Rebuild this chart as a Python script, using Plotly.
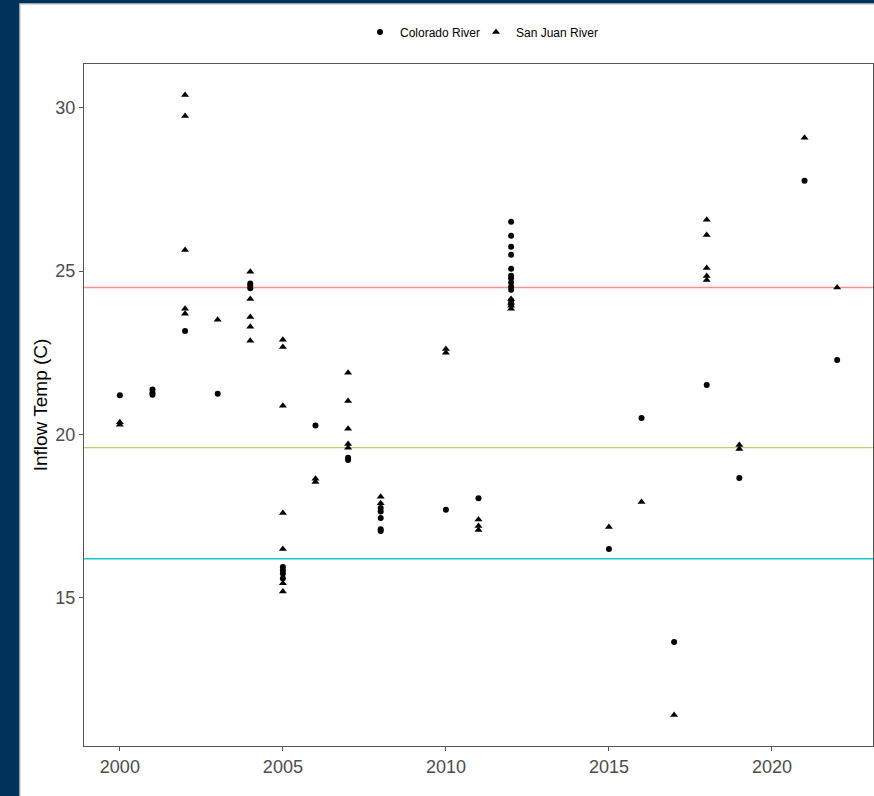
import plotly.graph_objects as go

# ---- data ----
co_years = [2000, 2001, 2001, 2001, 2002, 2003, 2004, 2004, 2004,
            2005, 2005, 2005, 2005, 2006, 2007, 2007,
            2008, 2008, 2008, 2008, 2008, 2010, 2011,
            2012, 2012, 2012, 2012, 2012, 2012, 2012, 2012, 2012, 2012, 2012, 2012,
            2015, 2016, 2017, 2018, 2019, 2021, 2022]
co_temps = [21.2, 21.38, 21.28, 21.22, 23.17, 21.25, 24.62, 24.55, 24.48,
            15.95, 15.85, 15.75, 15.6, 20.28, 19.29, 19.22,
            17.75, 17.65, 17.45, 17.1, 17.05, 17.7, 18.05,
            26.51, 26.08, 25.75, 25.5, 25.07, 24.86, 24.78, 24.65, 24.52, 24.43, 24.1, 24.0,
            16.5, 20.51, 13.65, 21.52, 18.67, 27.77, 22.28]

sj_years = [2000, 2000, 2002, 2002, 2002, 2002, 2002, 2003,
            2004, 2004, 2004, 2004, 2004,
            2005, 2005, 2005, 2005, 2005, 2005, 2005,
            2006, 2006, 2007, 2007, 2007, 2007, 2007,
            2008, 2008, 2010, 2010, 2011, 2011, 2011,
            2012, 2012, 2012, 2012,
            2015, 2016, 2017, 2018, 2018, 2018, 2018, 2018,
            2019, 2019, 2021, 2022]
sj_temps = [20.3, 20.38, 30.39, 29.75, 25.65, 23.85, 23.7, 23.51,
            24.98, 24.15, 23.6, 23.3, 22.87,
            22.9, 22.68, 20.88, 17.6, 16.5, 15.45, 15.2,
            18.65, 18.55, 21.89, 21.03, 20.18, 19.71, 19.6,
            18.1, 17.9, 22.62, 22.5, 17.4, 17.2, 17.08,
            24.15, 24.03, 23.94, 23.85,
            17.17, 17.94, 11.42, 26.57, 26.11, 25.1, 24.85, 24.73,
            19.68, 19.56, 29.08, 24.5]

ref_levels = [24.5, 19.6, 16.2]
ref_colors = ["rgba(248,118,109,0.8)", "rgba(124,174,0,0.55)", "rgba(0,191,196,0.9)"]

x_ticks = [2000, 2005, 2010, 2015, 2020]
y_ticks = [15, 20, 25, 30]

# ---- ggplot-like expansion (5%) ----
all_x = co_years + sj_years
all_y = co_temps + sj_temps
xr = max(all_x) - min(all_x)
yr = max(all_y) - min(all_y)
x_range = [min(all_x) - 0.05 * xr, max(all_x) + 0.05 * xr]
y_range = [min(all_y) - 0.05 * yr, max(all_y) + 0.05 * yr]

fig = go.Figure()
fig.add_trace(go.Scatter(x=co_years, y=co_temps, mode="markers", name="Colorado River",
                         legend="legend",
                         marker=dict(symbol="circle", size=6, color="black")))
fig.add_trace(go.Scatter(x=sj_years, y=sj_temps, mode="markers", name="San Juan River",
                         legend="legend2",
                         marker=dict(symbol="triangle-up", size=7, color="black")))

shapes = [
    # navy frame / white card
    dict(type="rect", xref="paper", yref="paper", x0=-0.0811, x1=1.01, y0=-0.08, y1=1.088,
         fillcolor="white", line=dict(color="#c8ccd2", width=1.5), layer="below"),
]
for lvl, col in zip(ref_levels, ref_colors):
    shapes.append(dict(type="line", xref="paper", yref="y", x0=0, x1=1, y0=lvl, y1=lvl,
                       line=dict(color=col, width=1.3), layer="below"))

leg_common = dict(orientation="h", xanchor="left", y=1.047, yanchor="middle",
                  font=dict(size=12, color="black"), bgcolor="rgba(0,0,0,0)",
                  itemwidth=30)

fig.update_layout(
    width=874, height=796,
    margin=dict(l=84, r=1, t=64, b=50),
    paper_bgcolor="#00325a",
    plot_bgcolor="white",
    font=dict(family="Liberation Sans, Arial, sans-serif", color="#4d4d4d"),
    shapes=shapes,
    showlegend=True,
    legend=dict(x=(360 - 84) / 789, **leg_common),
    legend2=dict(x=(476 - 84) / 789, **leg_common),
    xaxis=dict(range=x_range, tickvals=x_ticks, showgrid=False, zeroline=False,
               showline=True, linecolor="#555555", linewidth=1.3, mirror=True,
               ticks="outside", ticklen=4, tickcolor="#555555", tickwidth=1,
               tickfont=dict(size=18, color="#4d4d4d")),
    yaxis=dict(range=y_range, tickvals=y_ticks, showgrid=False, zeroline=False,
               showline=True, linecolor="#555555", linewidth=1.3, mirror=True,
               ticks="outside", ticklen=4, tickcolor="#555555", tickwidth=1,
               tickfont=dict(size=18, color="#4d4d4d"),
               title=dict(text="Inflow Temp (C)", font=dict(size=19, color="black"), standoff=2)),
)

fig.write_html("out.html", config={"displayModeBar": False},
               post_script="document.body.style.margin='0px';document.body.style.overflow='hidden';")
